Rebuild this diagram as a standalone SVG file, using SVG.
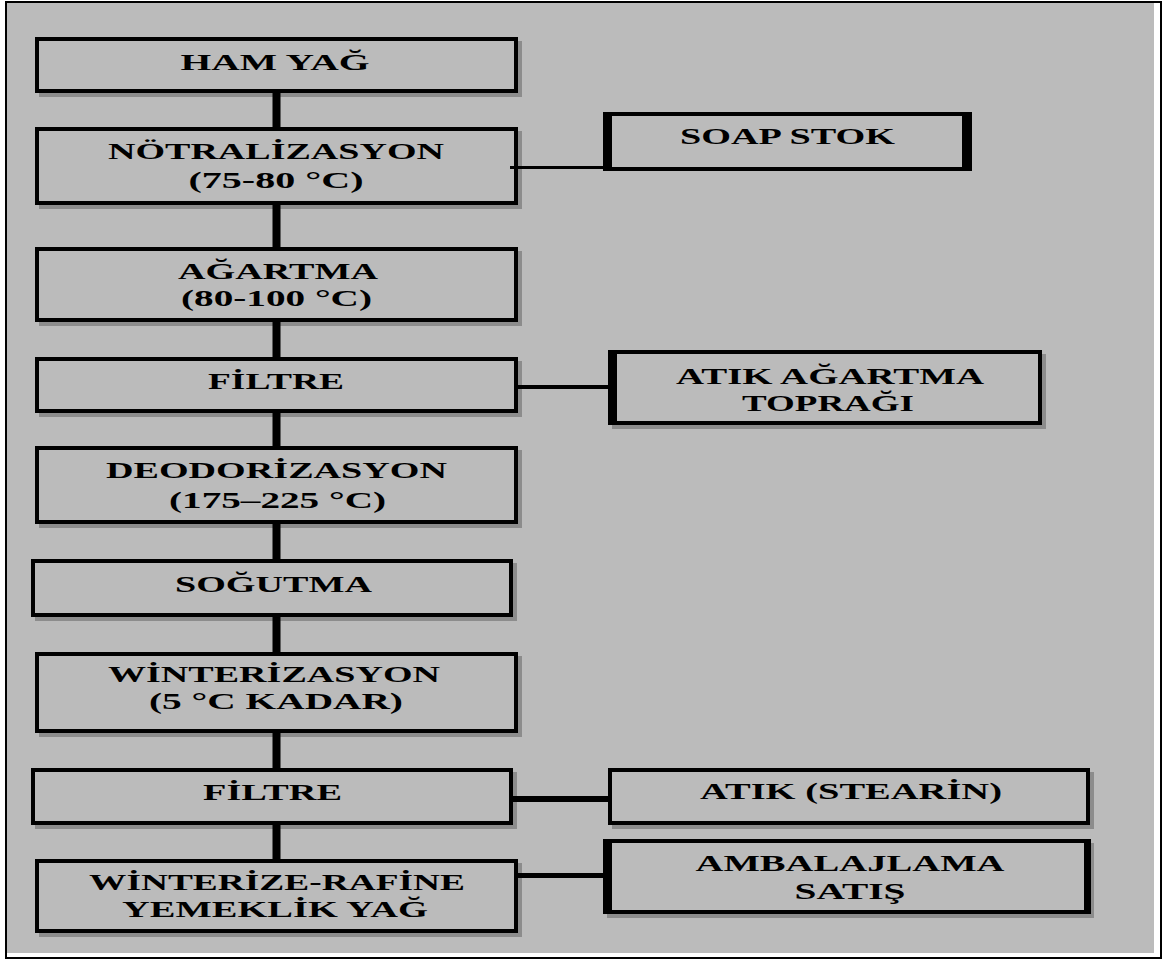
<svg xmlns="http://www.w3.org/2000/svg" width="1166" height="962" viewBox="0 0 1166 962">
<style>
.box{fill:#bbbbbb;stroke:#000;stroke-width:4}
.sh{fill:#8c8c8c}
.bar{fill:#000}
.t{font-family:"Liberation Serif","Times New Roman",serif;font-weight:bold;font-size:23px;fill:#000;text-anchor:middle}
.c{stroke:#000;fill:none}
</style>
<rect x="6" y="2" width="1155" height="956" fill="#ffffff" stroke="#000" stroke-width="2"/>
<rect x="7" y="3" width="1147" height="950" fill="#bbbbbb"/>

<g id="n-ham-yag">
<rect class="sh" x="39" y="41" width="483" height="56"/>
<rect class="box" x="37" y="39" width="479" height="52"/>
<text class="t" x="275" y="70" textLength="189" lengthAdjust="spacingAndGlyphs">HAM YAĞ</text>
</g>
<g id="n-notralizasyon">
<rect class="sh" x="39" y="131" width="483" height="78"/>
<rect class="box" x="37" y="129" width="479" height="74"/>
<text class="t" x="276" y="159" textLength="336" lengthAdjust="spacingAndGlyphs">NÖTRALİZASYON</text>
<text class="t" x="276" y="188" textLength="175" lengthAdjust="spacingAndGlyphs">(75-80 °C)</text>
</g>
<g id="n-agartma">
<rect class="sh" x="39" y="251" width="483" height="75"/>
<rect class="box" x="37" y="249" width="479" height="71"/>
<text class="t" x="278" y="279" textLength="200" lengthAdjust="spacingAndGlyphs">AĞARTMA</text>
<text class="t" x="276.5" y="306" textLength="191" lengthAdjust="spacingAndGlyphs">(80-100 °C)</text>
</g>
<g id="n-filtre1">
<rect class="sh" x="39" y="361" width="483" height="56"/>
<rect class="box" x="37" y="359" width="479" height="52"/>
<text class="t" x="276" y="389" textLength="136" lengthAdjust="spacingAndGlyphs">FİLTRE</text>
</g>
<g id="n-deodorizasyon">
<rect class="sh" x="39" y="450" width="483" height="78"/>
<rect class="box" x="37" y="448" width="479" height="74"/>
<text class="t" x="276.5" y="478" textLength="341" lengthAdjust="spacingAndGlyphs">DEODORİZASYON</text>
<text class="t" x="277.5" y="508" textLength="217" lengthAdjust="spacingAndGlyphs">(175–225 °C)</text>
</g>
<g id="n-sogutma">
<rect class="sh" x="35" y="563" width="482" height="58"/>
<rect class="box" x="33" y="561" width="478" height="54"/>
<text class="t" x="273.5" y="592" textLength="197" lengthAdjust="spacingAndGlyphs">SOĞUTMA</text>
</g>
<g id="n-winterizasyon">
<rect class="sh" x="39" y="656" width="483" height="81"/>
<rect class="box" x="37" y="654" width="479" height="77"/>
<text class="t" x="274" y="682" textLength="332" lengthAdjust="spacingAndGlyphs">WİNTERİZASYON</text>
<text class="t" x="276" y="709" textLength="254" lengthAdjust="spacingAndGlyphs">(5 °C KADAR)</text>
</g>
<g id="n-filtre2">
<rect class="sh" x="35" y="772" width="482" height="57"/>
<rect class="box" x="33" y="770" width="478" height="53"/>
<text class="t" x="272.5" y="800" textLength="139" lengthAdjust="spacingAndGlyphs">FİLTRE</text>
</g>
<g id="n-winterize-rafine">
<rect class="sh" x="39" y="863" width="483" height="74"/>
<rect class="box" x="37" y="861" width="479" height="70"/>
<text class="t" x="277" y="890" textLength="376" lengthAdjust="spacingAndGlyphs">WİNTERİZE-RAFİNE</text>
<text class="t" x="275" y="917" textLength="306" lengthAdjust="spacingAndGlyphs">YEMEKLİK YAĞ</text>
</g>

<g id="n-soap-stok">
<rect class="box" x="605" y="114" width="365" height="55"/>
<rect class="bar" x="603" y="112" width="9" height="59"/>
<rect class="bar" x="962" y="112" width="10" height="59"/>
<text class="t" x="787.5" y="144" textLength="215" lengthAdjust="spacingAndGlyphs">SOAP STOK</text>
</g>
<g id="n-atik-agartma">
<rect class="sh" x="612" y="354" width="434" height="75"/>
<rect class="box" x="610" y="352" width="430" height="71"/>
<rect class="bar" x="608" y="350" width="9" height="75"/>
<text class="t" x="830" y="384" textLength="308" lengthAdjust="spacingAndGlyphs">ATIK AĞARTMA</text>
<text class="t" x="828" y="411" textLength="172" lengthAdjust="spacingAndGlyphs">TOPRAĞI</text>
</g>
<g id="n-atik-stearin">
<rect class="sh" x="612" y="772" width="482" height="57"/>
<rect class="box" x="610" y="770" width="478" height="53"/>
<text class="t" x="851" y="799" textLength="302" lengthAdjust="spacingAndGlyphs">ATIK (STEARİN)</text>
</g>
<g id="n-ambalajlama">
<rect class="sh" x="607" y="843" width="487" height="75"/>
<rect class="box" x="605" y="841" width="483" height="71"/>
<rect class="bar" x="603" y="839" width="9" height="75"/>
<rect class="bar" x="1084" y="839" width="7" height="75"/>
<text class="t" x="850" y="871" textLength="309" lengthAdjust="spacingAndGlyphs">AMBALAJLAMA</text>
<text class="t" x="850" y="899" textLength="111" lengthAdjust="spacingAndGlyphs">SATIŞ</text>
</g>

<g id="connectors">
<path class="c" stroke-width="8" d="M276.5 93V127M276.5 205V247M276.5 322V357M276.5 413V446M276.5 524V559M276.5 617V652M276.5 733V768M276.5 825V859"/>
<path class="c" stroke-width="3" d="M510 167.5H604"/>
<path class="c" stroke-width="4" d="M518 387H609"/>
<path class="c" stroke-width="6" d="M513 799H609"/>
<path class="c" stroke-width="5" d="M518 875.5H604"/>
</g>
</svg>
